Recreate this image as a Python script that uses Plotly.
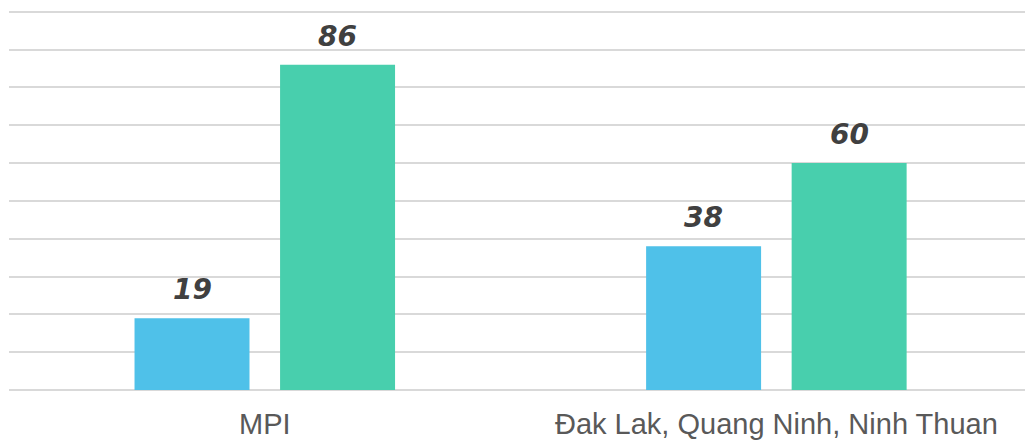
import plotly.graph_objects as go

categories = ["MPI", "Đak Lak, Quang Ninh, Ninh Thuan"]
series_a = [19, 38]
series_b = [86, 60]
colors = ["#4FC1E9", "#48CFAD"]

x_pos = list(range(len(categories)))

BARGAP = 0.431
BARGROUPGAP = 0.21
n_series = 2
slot = (1 - BARGAP) / n_series
offsets = [-slot / 2, slot / 2]

fig = go.Figure()
for vals, col in zip([series_a, series_b], colors):
    fig.add_trace(go.Bar(x=x_pos, y=vals, marker=dict(color=col, line=dict(width=0)),
                         showlegend=False, hoverinfo="skip"))

annotations = []
for vals, off in zip([series_a, series_b], offsets):
    for xi, v in zip(x_pos, vals):
        annotations.append(dict(
            x=xi + off, y=v, xref="x", yref="y", text=f"<b><i>{v}</i></b>",
            showarrow=False, yanchor="bottom", yshift=10,
            font=dict(family="DejaVu Sans", size=28, color="#404040"),
        ))

fig.update_layout(
    width=1025, height=441, autosize=False,
    margin=dict(l=9, r=0, t=8, b=51),
    paper_bgcolor="white", plot_bgcolor="white",
    barmode="group", bargap=BARGAP, bargroupgap=BARGROUPGAP,
    annotations=annotations,
    xaxis=dict(
        range=[-0.5, 1.486], tickmode="array", tickvals=x_pos, ticktext=categories,
        showgrid=False, zeroline=False, showline=False, ticks="",
        ticklabelstandoff=14,
        tickfont=dict(family="Liberation Sans, Arial", size=29, color="#595959"),
    ),
    yaxis=dict(
        range=[0, 101], tickmode="array", tickvals=list(range(0, 101, 10)),
        showticklabels=False, showgrid=True,
        gridcolor="#d9d9d9", gridwidth=2, zeroline=True, zerolinecolor="#d9d9d9",
        zerolinewidth=2, showline=False, ticks="",
    ),
)

fig.write_html("out.html")
